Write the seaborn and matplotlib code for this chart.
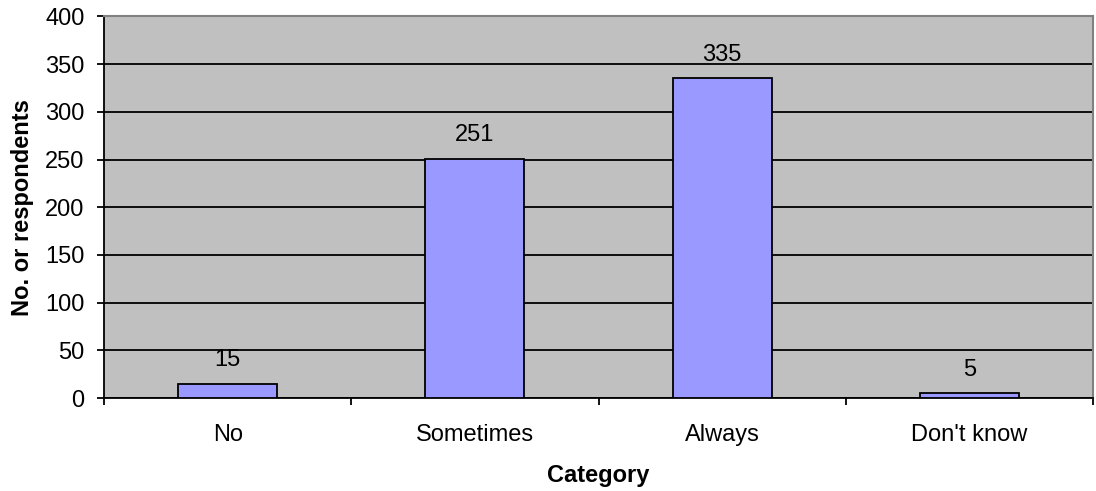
import matplotlib
matplotlib.use("Agg")
import matplotlib.pyplot as plt
import seaborn as sns
import pandas as pd

categories = ["No", "Sometimes", "Always", "Don't know"]
respondents = [15, 251, 335, 5]
y_ticks = [0, 50, 100, 150, 200, 250, 300, 350, 400]

sns.set_style("white")
plt.rcParams["font.family"] = ["Liberation Sans", "DejaVu Sans"]
plt.rcParams["text.color"] = "black"
plt.rcParams["axes.labelcolor"] = "black"
plt.rcParams["xtick.color"] = "black"
plt.rcParams["ytick.color"] = "black"

FS = 17

df = pd.DataFrame({"Category": categories, "Respondents": respondents})

fig = plt.figure(figsize=(10.96, 4.91), dpi=100)
ax = fig.add_axes([0.0949, 0.1894, 0.9024, 0.777])
ax.set_facecolor("#C0C0C0")

sns.barplot(data=df, x="Category", y="Respondents", ax=ax, color="#9999FF",
            saturation=1, width=0.4, edgecolor="black", linewidth=1.3, zorder=3)

ax.set_ylim(0, 400)
ax.set_xlim(-0.5, len(categories) - 0.5)
ax.set_yticks(y_ticks)
ax.yaxis.grid(True, color="black", linewidth=1.3, zorder=1)
ax.set_axisbelow(True)

# category boundary ticks on the x axis
ax.set_xticks(range(len(categories)))
ax.set_xticklabels(categories)
ax.set_xticks([i - 0.5 for i in range(len(categories) + 1)], minor=True)
ax.tick_params(axis="x", which="both", bottom=True)
ax.tick_params(axis="x", which="major", length=0, pad=19, labelsize=FS)
ax.tick_params(axis="x", which="minor", length=5, width=1.3, direction="out", color="black")
ax.tick_params(axis="y", left=True, length=5, width=1.3, direction="out", color="black",
               labelsize=FS, pad=9)

for side in ["left", "bottom"]:
    ax.spines[side].set_color("black")
    ax.spines[side].set_linewidth(1.3)
for side in ["top", "right"]:
    ax.spines[side].set_color("#808080")
    ax.spines[side].set_linewidth(1.5)

for i, v in enumerate(respondents):
    ax.annotate(str(v), (i, v), xytext=(0, 9), textcoords="offset points",
                ha="center", va="bottom", fontsize=FS)

ax.set_xlabel("Category", fontsize=FS, fontweight="bold", labelpad=13)
ax.set_ylabel("No. or respondents", fontsize=FS, fontweight="bold", labelpad=8)

fig.savefig("out.png", dpi=100)
